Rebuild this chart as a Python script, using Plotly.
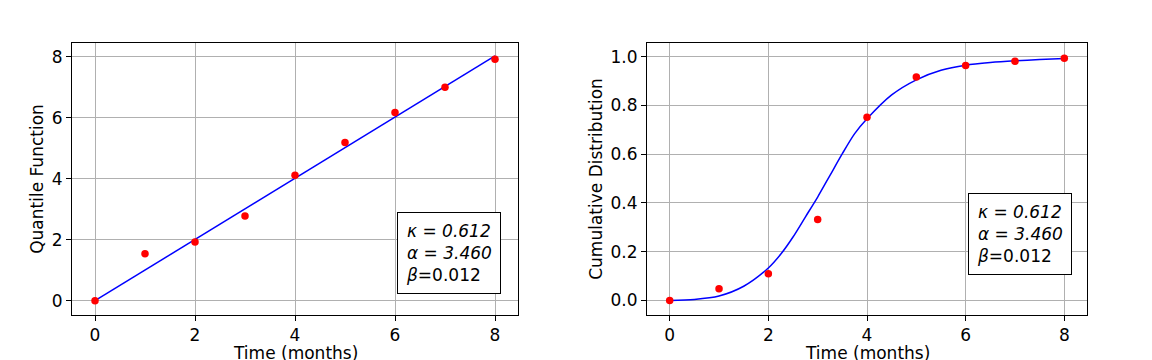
import plotly.graph_objects as go

# observed data (months)
months = [0, 1, 2, 3, 4, 5, 6, 7, 8]
quantile_obs = [0.0, 1.54, 1.92, 2.78, 4.11, 5.19, 6.17, 7.0, 7.92]
cdf_obs = [0.0, 0.048, 0.109, 0.332, 0.751, 0.916, 0.964, 0.981, 0.993]

# fitted curves
fit_x = [0, 8]
quantile_fit = [0.0, 8.03]
cdf_fit_x = [0, 0.5, 1, 1.5, 2, 2.25, 2.5, 2.75, 3, 3.25, 3.5, 3.75, 4,
             4.5, 5, 5.5, 6, 6.5, 7, 7.5, 8]
cdf_fit = [0.0, 0.004, 0.018, 0.058, 0.133, 0.189, 0.26, 0.342, 0.424, 0.513,
           0.602, 0.684, 0.745, 0.843, 0.905, 0.944, 0.965, 0.976, 0.983, 0.988, 0.992]

x_ticks = [0, 2, 4, 6, 8]
q_ticks = [0, 2, 4, 6, 8]
c_ticks = [0.0, 0.2, 0.4, 0.6, 0.8, 1.0]

params_text = "<i>κ = 0.612</i><br><i>α = 3.460</i><br><i>β</i>=0.012"

W, H = 1152, 360
font = dict(family="DejaVu Sans", size=17, color="black")

fig = go.Figure()

fig.add_trace(go.Scatter(x=fit_x, y=quantile_fit, mode="lines",
                         line=dict(color="blue", width=1.5), xaxis="x", yaxis="y"))
fig.add_trace(go.Scatter(x=months, y=quantile_obs, mode="markers",
                         marker=dict(color="red", size=7.5), xaxis="x", yaxis="y"))
fig.add_trace(go.Scatter(x=cdf_fit_x, y=cdf_fit, mode="lines",
                         line=dict(color="blue", width=1.5, shape="spline", smoothing=0.8),
                         xaxis="x2", yaxis="y2"))
fig.add_trace(go.Scatter(x=months, y=cdf_obs, mode="markers",
                         marker=dict(color="red", size=7.5), xaxis="x2", yaxis="y2"))

axis_common = dict(
    showline=True, linecolor="black", linewidth=1, mirror=True,
    ticks="outside", ticklen=5, tickcolor="black",
    showgrid=True, gridcolor="#b0b0b0", gridwidth=1,
    zeroline=False, automargin=False, tickfont=font,
)

y_dom = [(360 - 315) / H, (360 - 43) / H]
left_dom = [72 / W, 518 / W]
right_dom = [647 / W, 1087 / W]

fig.update_layout(
    width=W, height=H,
    margin=dict(l=0, r=0, t=0, b=0),
    paper_bgcolor="white", plot_bgcolor="white",
    showlegend=False, font=font,
    xaxis=dict(axis_common, domain=left_dom, range=[-0.46, 8.46],
               tickvals=x_ticks, anchor="y"),
    yaxis=dict(axis_common, domain=y_dom, range=[-0.47, 8.45],
               tickvals=q_ticks, anchor="x",
               title=dict(text="Quantile Function", font=font, standoff=3)),
    xaxis2=dict(axis_common, domain=right_dom, range=[-0.46, 8.46],
                tickvals=x_ticks, anchor="y2"),
    yaxis2=dict(axis_common, domain=y_dom, range=[-0.06, 1.056],
                tickvals=c_ticks, tickformat=".1f", anchor="x2",
                title=dict(text="Cumulative Distribution", font=font, standoff=3)),
)

# x axis titles, placed under the tick labels like the original
for dom in [left_dom, right_dom]:
    fig.add_annotation(text="Time (months)", xref="paper", yref="paper",
                       x=(dom[0] + dom[1]) / 2, y=(H - 353) / H,
                       xanchor="center", yanchor="middle", showarrow=False, font=font)

# parameter boxes
for bx, by in [(397, 212), (968, 193)]:
    fig.add_annotation(
        text=params_text, xref="paper", yref="paper",
        x=bx / W, y=(H - by) / H, xanchor="left", yanchor="top",
        showarrow=False, align="left", font=dict(family="DejaVu Sans", size=17, color="black"),
        bordercolor="black", borderwidth=1, borderpad=8, bgcolor="white",
    )

# drop the page's default body margin so the figure sits at the top-left corner
fig.write_html("out.html", config={"displayModeBar": False},
               post_script="document.body.style.margin='0';")
